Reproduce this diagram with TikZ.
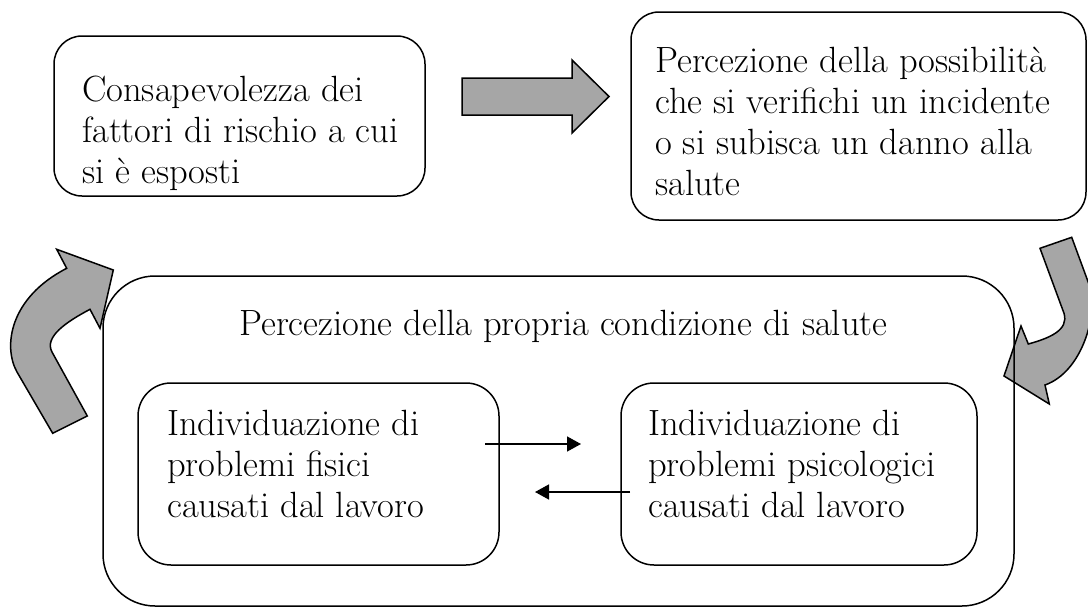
\documentclass[tikz,border=0pt]{standalone}
\usepackage{fontspec}
\usetikzlibrary{arrows.meta}
\definecolor{fatgray}{RGB}{166,166,166}
\tikzset{
  box/.style={draw=black, line width=1.5pt, rounded corners=#1, inner sep=0pt},
  txt/.style={anchor=base west, inner sep=0pt, font=\fontsize{36.5}{41}\selectfont},
  fat/.style={draw=black, fill=fatgray, line width=1.5pt, line join=miter},
  link/.style={line width=1.5pt, -{Triangle[length=14pt,width=15pt]}}
}
\begin{document}
\begin{tikzpicture}[x=1pt,y=-1pt]
\useasboundingbox (0,0) rectangle (1088,608);
\clip (0,0) rectangle (1088,608);
% fat arrows (drawn first, under the boxes)
\draw[fat] (462,78) -- (572,78) -- (572,60) -- (609,96.5) -- (572,133) -- (572,115) -- (462,115) -- cycle;
\draw[fat] (52.7,433.3) -- (17,372) .. controls (3,347) and (9,298) .. (66.7,268.3) -- (56.7,249.3) -- (113.3,270) -- (100,328.3) -- (90,309.3) .. controls (66,322) and (44,337) .. (52,352) -- (87.3,416) -- cycle;
\draw[fat] (1040,248.3) -- (1064,313.3) .. controls (1069,330) and (1050,338) .. (1028.3,344) -- (1021,326) -- (1004,376) -- (1049.3,404) -- (1045,385) .. controls (1082,372) and (1098,315) .. (1090,287) -- (1071.7,237.3) -- cycle;
% boxes
\node[box=28pt, minimum width=371pt, minimum height=160pt] (A) at (239.5,116) {};
\node[box=28pt, minimum width=455pt, minimum height=208pt] (B) at (858.5,116) {};
\node[box=52pt, minimum width=911pt, minimum height=330pt] (C) at (558.5,441) {};
\node[box=33pt, minimum width=361pt, minimum height=182pt] (D) at (318.5,474) {};
\node[box=33pt, minimum width=356pt, minimum height=182pt] (E) at (799,474) {};
% texts
\node[txt] (At) at (82,101) {\parbox[t]{340pt}{\raggedright Consapevolezza dei\\fattori di rischio a cui\\si è esposti}};
\node[txt] (Bt) at (655,72) {\parbox[t]{425pt}{\raggedright Percezione della possibilità\\che si verifichi un incidente\\o si subisca un danno alla\\salute}};
\node[txt] (Ct) at (239,335) {Percezione della propria condizione di salute};
\node[txt] (Dt) at (167,435) {\parbox[t]{330pt}{\raggedright Individuazione di\\problemi fisici\\causati dal lavoro}};
\node[txt] (Et) at (648,435) {\parbox[t]{325pt}{\raggedright Individuazione di\\problemi psicologici\\causati dal lavoro}};
% thin arrows
\coordinate (p1) at (485,444);
\coordinate (p2) at (581,444);
\coordinate (q1) at (630,492);
\coordinate (q2) at (535,492);
\draw[link] (p1) -- (p2);
\draw[link] (q1) -- (q2);
\end{tikzpicture}
\end{document}
